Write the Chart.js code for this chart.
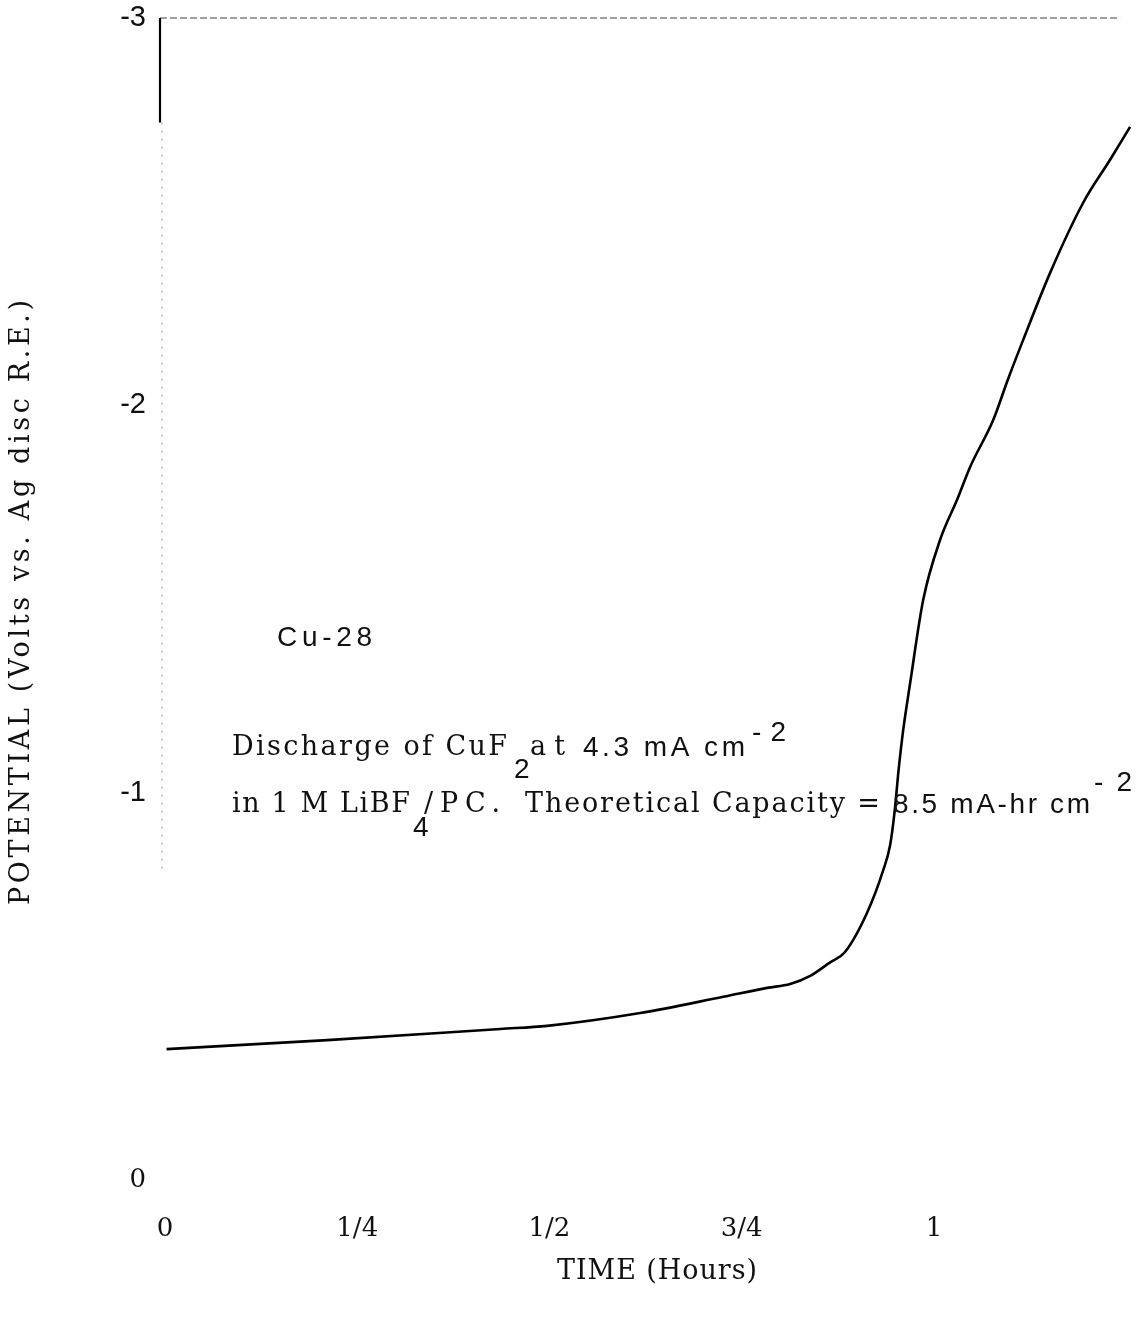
<!DOCTYPE html>
<html><head><meta charset="utf-8">
<script src="https://cdn.jsdelivr.net/npm/chart.js@4"></script>
<style>html,body{margin:0;padding:0;background:#fff}#wrap{width:1140px;height:1317px;position:relative}canvas{display:block}</style>
</head><body><div id="wrap"><canvas id="c" width="1140" height="1317"></canvas></div>
<script>
// Discharge curve: time (hours) vs potential (V vs. Ag disc R.E.)
const timeHours = [0.002, 0.211, 0.436, 0.497, 0.618, 0.726, 0.783, 0.813, 0.839, 0.865, 0.884, 0.913, 0.934, 0.943, 0.949, 0.954, 0.960, 0.969, 0.986, 1.008, 1.030, 1.047, 1.077, 1.096, 1.116, 1.151, 1.194, 1.229, 1.255];
const potentialVolts = [-0.338, -0.361, -0.390, -0.398, -0.431, -0.473, -0.496, -0.506, -0.527, -0.562, -0.588, -0.690, -0.800, -0.865, -0.955, -1.059, -1.162, -1.283, -1.498, -1.653, -1.756, -1.841, -1.962, -2.066, -2.169, -2.342, -2.523, -2.634, -2.719];
const xTickValues = [0, 0.25, 0.5, 0.75, 1];
const xTickLabels = ['0', '1/4', '1/2', '3/4', '1'];
const yTickValues = [-3, -2, -1, 0];
const yTickLabels = ['-3', '-2', '-1', '0'];
const xTitle = 'TIME (Hours)';
const yTitle = 'POTENTIAL (Volts vs. Ag disc R.E.)';
const sampleLabel = 'Cu-28';

const SERIF = '"DejaVu Serif", "Liberation Serif", serif';
const SANS = '"Liberation Sans", Arial, sans-serif';

function fitText(ctx, str, x0, x1, y, font) {
  ctx.save();
  ctx.font = font;
  ctx.letterSpacing = '0px';
  const w = ctx.measureText(str).width;
  const n = Math.max(1, str.length - 1);
  const ls = (x1 - x0 - w) / n;
  ctx.letterSpacing = ls.toFixed(2) + 'px';
  ctx.textAlign = 'left';
  ctx.textBaseline = 'middle';
  ctx.fillStyle = '#111';
  ctx.fillText(str, x0, y);
  ctx.restore();
}

const framePlugin = {
  id: 'frame',
  beforeDatasetsDraw(chart) {
    const {ctx, scales: {x, y}} = chart;
    const left = chart.chartArea.left;
    ctx.save();
    ctx.strokeStyle = '#444';
    ctx.lineWidth = 1.2;
    ctx.setLineDash([7, 3]);
    ctx.beginPath();
    ctx.moveTo(left, y.getPixelForValue(-3));
    ctx.lineTo(x.getPixelForValue(1.242), y.getPixelForValue(-3));
    ctx.stroke();
    ctx.setLineDash([]);
    ctx.strokeStyle = '#000';
    ctx.lineWidth = 2.2;
    ctx.beginPath();
    ctx.moveTo(left, y.getPixelForValue(-3));
    ctx.lineTo(left, y.getPixelForValue(-2.73));
    ctx.stroke();
    ctx.strokeStyle = '#999';
    ctx.lineWidth = 1;
    ctx.setLineDash([2, 6]);
    ctx.beginPath();
    ctx.moveTo(left + 2, y.getPixelForValue(-2.73));
    ctx.lineTo(left + 2, y.getPixelForValue(-0.8));
    ctx.stroke();
    ctx.restore();
  }
};

const notesPlugin = {
  id: 'notes',
  afterDraw(chart) {
    const ctx = chart.ctx;
    const fs = '27px ' + SERIF;
    const ss = '28px ' + SANS;
    fitText(ctx, sampleLabel, 277, 372, 638, ss);
    fitText(ctx, 'Discharge of CuF', 232, 507, 748, fs);
    fitText(ctx, '2', 514, 527, 770, ss);
    fitText(ctx, 'at', 530, 565, 748, fs);
    fitText(ctx, '4.3 mA cm', 583, 745, 748, ss);
    fitText(ctx, '-2', 752, 786, 733, ss);
    fitText(ctx, 'in 1 M LiBF', 232, 410, 805, fs);
    fitText(ctx, '4', 413, 426, 828, ss);
    fitText(ctx, '/PC.', 424, 500, 805, fs);
    fitText(ctx, 'Theoretical Capacity =', 525, 880, 805, fs);
    fitText(ctx, '8.5 mA-hr cm', 893, 1090, 805, ss);
    fitText(ctx, '-2', 1094, 1132, 783, ss);
    fitText(ctx, xTitle, 557, 757, 1272, fs);
    ctx.save();
    ctx.translate(22, 603);
    ctx.rotate(-Math.PI / 2);
    fitText(ctx, yTitle, -302, 303, 0, fs);
    ctx.restore();
  }
};

new Chart(document.getElementById('c'), {
  type: 'line',
  data: {
    datasets: [{
      data: timeHours.map((t, i) => ({x: t, y: potentialVolts[i]})),
      borderColor: '#000',
      borderWidth: 2.6,
      pointRadius: 0,
      fill: false,
      cubicInterpolationMode: 'monotone'
    }]
  },
  options: {
    responsive: false,
    animation: false,
    devicePixelRatio: 1,
    layout: {padding: {top: 18, right: 8, left: 0, bottom: 0}},
    plugins: {legend: {display: false}, tooltip: {enabled: false}},
    scales: {
      x: {
        type: 'linear',
        min: -0.0065,
        max: 1.2575,
        grid: {display: false, drawTicks: false},
        border: {display: false},
        afterBuildTicks: s => { s.ticks = xTickValues.map(v => ({value: v})); },
        afterFit: s => { s.height = 137; s.paddingLeft = 0; s.paddingRight = 0; },
        ticks: {
          autoSkip: false, maxRotation: 0, padding: 34, color: '#111',
          font: {family: SERIF, size: 26},
          callback: v => { const i = xTickValues.indexOf(v); return i >= 0 ? xTickLabels[i] : ''; }
        }
      },
      y: {
        type: 'linear',
        min: -3,
        max: 0,
        reverse: true,
        grid: {display: false, drawTicks: false},
        border: {display: false},
        afterBuildTicks: s => { s.ticks = yTickValues.map(v => ({value: v})); },
        afterFit: s => { s.width = 160; s.paddingTop = 0; s.paddingBottom = 0; },
        ticks: {
          autoSkip: false, padding: 14, color: '#111',
          font: ctx => (ctx.tick && ctx.tick.value === 0) ? {family: SERIF, size: 26} : {family: SANS, size: 29},
          callback: v => { const i = yTickValues.indexOf(v); return i >= 0 ? yTickLabels[i] : ''; }
        }
      }
    }
  },
  plugins: [framePlugin, notesPlugin]
});
</script>
</body></html>
